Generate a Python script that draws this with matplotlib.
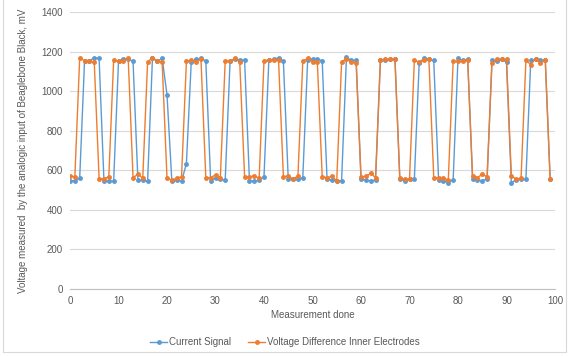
import numpy as np
import matplotlib
matplotlib.use('Agg')
import matplotlib.pyplot as plt
from matplotlib.patches import Rectangle

# values, mV
current_signal = [547, 547, 560, 1153, 1153, 1169, 1166, 547, 545, 545,
                  1150, 1163, 1163, 1150, 550, 550, 544, 1166, 1150, 1166,
                  982, 544, 550, 544, 634, 1147, 1160, 1166, 1153, 547,
                  560, 555, 550, 1150, 1163, 1158, 1158, 547, 544, 550,
                  567, 1158, 1160, 1169, 1150, 555, 555, 555, 563, 1158,
                  1163, 1163, 1153, 555, 552, 547, 547, 1171, 1155, 1155,
                  555, 550, 545, 552, 1155, 1158, 1160, 1162, 555, 547,
                  555, 555, 1144, 1166, 1160, 1155, 552, 547, 538, 552,
                  1166, 1155, 1160, 555, 552, 547, 558, 1155, 1150, 1160,
                  1147, 538, 552, 555, 555, 1155, 1160, 1155, 1155, 555]

voltage_diff = [572, 567, 1169, 1153, 1150, 1147, 558, 558, 567, 1158,
                1150, 1153, 1166, 563, 580, 560, 1147, 1169, 1153, 1147,
                560, 550, 560, 567, 1150, 1158, 1147, 1163, 563, 563,
                577, 563, 1153, 1150, 1166, 1145, 567, 567, 572, 560,
                1153, 1158, 1158, 1158, 567, 572, 555, 572, 1150, 1166,
                1147, 1145, 567, 563, 569, 547, 1149, 1163, 1146, 1144,
                567, 569, 584, 563, 1155, 1160, 1160, 1164, 563, 555,
                555, 1155, 1147, 1155, 1160, 563, 563, 560, 550, 1150,
                1150, 1150, 1156, 572, 563, 580, 567, 1142, 1163, 1160,
                1160, 572, 555, 560, 1156, 1134, 1164, 1142, 1155, 555]

measurement = np.arange(len(current_signal))

series_names = ['Current Signal', 'Voltage Difference Inner Electrodes']
series_colors = ['#5B9BD5', '#ED7D31']

plt.rcParams['font.family'] = ['Liberation Sans', 'DejaVu Sans']
text_color = '#595959'

fig = plt.figure(figsize=(5.7, 3.56), dpi=100)
ax = fig.add_axes([70 / 570, 1 - 289 / 356, 485 / 570, 277 / 356])

for y, name, color in zip([current_signal, voltage_diff], series_names, series_colors):
   ax.plot(measurement, y, color=color, lw=1.0, marker='o', ms=2.5,
           mec=color, mfc=color, label=name)

ax.set_xlim(0, 100)
ax.set_ylim(0, 1400)
ax.set_xticks(np.arange(0, 101, 10))
ax.set_yticks(np.arange(0, 1401, 200))
ax.grid(axis='y', color='#D9D9D9', lw=0.8)
ax.set_axisbelow(True)

for side in ['top', 'right', 'left']:
   ax.spines[side].set_visible(False)
ax.spines['bottom'].set_color('#BFBFBF')
ax.spines['bottom'].set_linewidth(0.8)

ax.tick_params(axis='both', length=0, labelsize=7, colors=text_color, pad=5)

ax.set_xlabel('Measurement done', fontsize=7, color=text_color, labelpad=3)
ax.set_ylabel('Voltage measured  by the analogic input of Beaglebone Black, mV',
              fontsize=7, color=text_color, labelpad=10)

fig.legend(loc='center', bbox_to_anchor=(0.5, 1 - 342 / 356), ncol=2,
           frameon=False, fontsize=7, labelcolor=text_color,
           handlelength=1.7, columnspacing=1.8, handletextpad=0.2)

# light chart border like the spreadsheet chart area
fig.patches.append(Rectangle((3 / 570, 4 / 356), 563 / 570, 1.2,
                             transform=fig.transFigure, fill=False,
                             edgecolor='#D9D9D9', lw=0.8))

fig.savefig('out.png', dpi=100)
